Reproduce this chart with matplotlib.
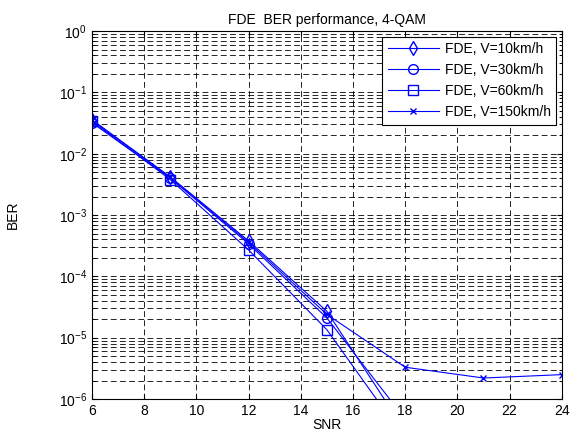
import numpy as np
import matplotlib
matplotlib.use("Agg")
import matplotlib.pyplot as plt
from matplotlib.ticker import LogLocator, NullFormatter

snr = [6, 9, 12, 15, 18, 21, 24]
ber_10 = [0.036, 0.0042, 3.8e-4, 2.7e-5, 3.0e-7, np.nan, np.nan]
ber_30 = [0.032, 0.0040, 3.4e-4, 2.1e-5, 4.7e-7, np.nan, np.nan]
ber_60 = [0.034, 0.0038, 2.7e-4, 1.35e-5, 2.2e-7, np.nan, np.nan]
ber_150 = [0.035, 0.0041, 3.6e-4, 2.4e-5, 3.3e-6, 2.2e-6, 2.5e-6]
labels = ["FDE, V=10km/h", "FDE, V=30km/h", "FDE, V=60km/h", "FDE, V=150km/h"]
markers = ["d", "o", "s", "x"]

plt.rcParams['font.family'] = ['Liberation Sans', 'DejaVu Sans']
plt.rcParams['mathtext.fontset'] = 'custom'
plt.rcParams['mathtext.rm'] = 'Liberation Sans'
plt.rcParams['mathtext.it'] = 'Liberation Sans'
fig = plt.figure(figsize=(5.78, 4.38), dpi=100)
ax = fig.add_axes([0.159, 0.089, 0.813, 0.840])

for y, lab, m in zip([ber_10, ber_30, ber_60, ber_150], labels, markers):
    ax.semilogy(snr, y, color='blue', marker=m, markersize=7 if m != 'x' else 4,
                markerfacecolor='none', markeredgecolor='blue', linewidth=0.8, label=lab)

ax.set_xlim(6, 24)
ax.set_ylim(1e-6, 1e0)
ax.set_xticks(range(6, 25, 2))
ax.yaxis.set_major_locator(LogLocator(base=10, numticks=10))
ax.yaxis.set_minor_locator(LogLocator(base=10, subs=np.arange(2, 10), numticks=100))
ax.yaxis.set_minor_formatter(NullFormatter())
ax.grid(True, which='major', linestyle=(0, (7, 4)), color='black', linewidth=0.6)
ax.grid(True, which='minor', axis='y', linestyle=(0, (7, 4)), color='black', linewidth=0.6)
ax.tick_params(which='both', direction='in', top=True, right=True, labelsize=10)
for s in ax.spines.values():
    s.set_linewidth(0.8)

ax.set_xlabel("SNR", fontsize=10, labelpad=0)
ax.set_ylabel("BER", fontsize=10, labelpad=28)
ax.set_title("FDE  BER performance, 4-QAM", fontsize=10, pad=5)
leg = ax.legend(loc='upper right', fontsize=10, fancybox=False, edgecolor='black',
                framealpha=1, borderaxespad=0.4, handlelength=3.7, labelspacing=0.5,
                borderpad=0.4, handletextpad=0.4)
leg.get_frame().set_linewidth(0.8)

fig.savefig("out.png", dpi=100)
